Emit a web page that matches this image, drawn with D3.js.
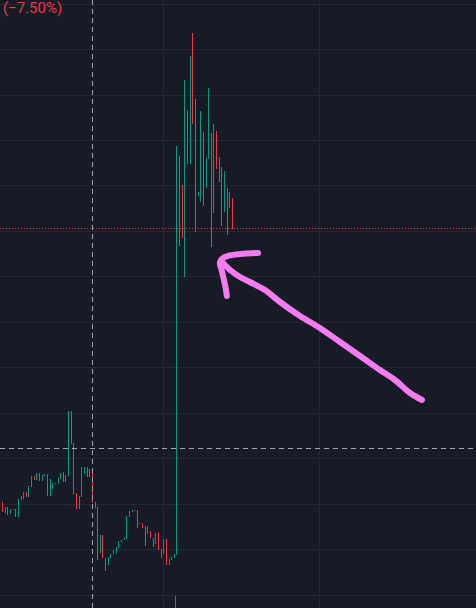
<!DOCTYPE html>
<html><head><meta charset="utf-8">
<script src="https://cdn.jsdelivr.net/npm/d3@7"></script>
<style>html,body{margin:0;padding:0;background:#171b26;overflow:hidden}</style>
</head><body><svg id="c" width="476" height="608"></svg>
<script>
// ---- data (1-minute candles) ----
const open = [80.55,78.13,79.45,77.91,79.01,79.01,77.25,80.99,81.21,82.75,
81.65,83.85,86.27,85.39,86.92,85.17,86.27,86.70,81.87,83.41,
84.51,84.51,85.61,87.14,84.95,86.27,100.55,93.52,82.53,79.01,
81.65,86.70,88.24,86.04,87.80,80.55,79.45,69.34,73.30,68.24,
66.70,68.24,69.12,69.12,70.44,71.76,72.20,72.42,77.25,78.35,
78.79,78.79,75.72,75.93,75.28,73.52,74.18,72.64,71.32,73.96,
70.22,69.12,72.42,66.70,67.80,68.24,68.90,156.59,150.22,130.00,
166.70,154.84,183.63,169.12,147.80,146.48,161.87,149.56,155.93,161.65,
144.07,162.09,156.37,154.18,144.29,149.56,145.17,147.36];
const high = [80.55,79.45,79.45,79.01,79.01,79.01,81.21,81.87,82.75,82.75,
84.07,86.27,86.27,86.92,86.92,86.48,86.70,86.70,85.61,84.73,
84.73,85.83,86.92,87.14,86.48,100.55,100.55,93.52,82.53,81.87,
88.24,88.24,88.24,87.80,87.80,80.55,79.45,73.30,73.30,68.24,
68.46,69.12,70.00,70.66,71.98,72.20,72.64,77.47,78.57,78.79,
78.79,78.79,75.93,75.93,75.28,75.28,74.18,72.64,73.74,73.96,
70.22,72.42,72.42,68.02,68.46,69.12,158.79,156.59,150.22,173.30,
166.70,178.57,183.63,169.12,148.68,166.48,161.87,156.15,171.54,161.65,
163.63,162.09,156.37,154.18,153.30,149.56,148.68,147.36];
const low = [78.35,78.13,77.69,77.91,78.79,77.25,77.25,80.99,81.21,81.65,
81.65,83.85,85.39,85.39,85.17,85.17,86.27,81.87,81.87,83.41,
84.51,84.51,85.61,84.95,84.95,86.27,93.30,82.31,79.01,79.01,
81.65,86.70,86.04,86.04,80.33,79.23,67.80,69.34,68.24,65.38,
66.70,68.24,69.12,69.12,70.44,71.76,72.20,72.42,77.25,78.35,
78.57,74.84,75.72,74.84,70.88,73.52,72.64,70.66,71.32,70.00,
68.24,69.12,66.70,66.70,67.80,68.24,68.90,136.81,138.57,130.00,
154.84,154.84,163.63,139.89,147.80,146.48,145.61,149.56,155.93,136.59,
144.07,153.74,150.88,141.21,144.29,139.23,145.17,140.60];
const close = [78.35,79.45,77.69,79.01,78.79,77.25,81.21,81.87,82.75,81.65,
84.07,86.27,85.39,86.92,85.17,86.48,86.70,81.87,85.61,84.73,
84.73,85.83,86.92,84.95,86.48,100.55,93.30,82.31,79.01,81.87,
88.24,88.24,86.04,87.80,80.33,79.23,67.80,73.30,68.24,65.38,
68.46,69.12,70.00,70.66,71.98,72.20,72.64,77.47,78.57,78.79,
78.57,74.84,75.93,74.84,70.88,75.28,72.64,70.66,73.74,70.00,
68.24,72.42,66.70,68.02,68.46,69.12,158.79,136.81,138.57,173.30,
154.84,178.57,163.63,139.89,148.68,166.48,145.61,156.15,171.54,136.59,
163.63,153.74,150.88,141.21,153.30,139.23,148.68,140.60];
// only the spike bar's volume rises into view
const volume = open.map(() => null); volume[66] = 2750;

const priceTicks = [60,70,80,90,100,110,120,130,140,150,160,170,180,190];
const timeTicks = [61,120];          // candle index of hour lines
const timeLabels = ["14:00","15:00"];
const changeLabel = "(\u22127.50%)";
const crosshair = {index: 34, price: 92.3};
// hand-drawn annotation arrow, in (candle index, price)
const arrowShaft = [[158.7,102.97],[154.2,104.51],[148.5,107.36],[142.8,109.56],[135.3,112.64],
  [127.7,115.71],[120.1,118.79],[112.6,121.43],[105.0,124.51],[99.3,127.14],[93.6,128.90],
  [89.9,130.00],[86.1,131.54],[83.1,133.30]];
const arrowHead = [[96.7,135.28],[89.9,135.06],[84.2,134.40],[82.3,133.30],[83.1,131.10],[84.2,128.24],[84.9,125.83]];

// ---- drawing ----
const W = 476, H = 608;
const UP = "#089981", DOWN = "#f23645";
const svg = d3.select("#c");
const x = d3.scaleLinear().domain([0, 1]).range([2, 4.643]);
const y = d3.scaleLinear().domain([57.25, 190.88]).range([H, 0]);
const vy = d3.scaleLinear().domain([0, 10000]).range([640, 480]);
const col = i => Math.round(x(i));

svg.append("rect").attr("width", W).attr("height", H).attr("fill", "#171b26");

// grid
const grid = svg.append("g");
grid.selectAll("line.h").data(priceTicks).join("line")
  .attr("x1", 0).attr("x2", W)
  .attr("y1", d => Math.floor(y(d)) + 0.5).attr("y2", d => Math.floor(y(d)) + 0.5)
  .attr("stroke", "#242832").attr("stroke-width", 1);
grid.selectAll("line.v").data(timeTicks).join("line")
  .attr("y1", 0).attr("y2", H)
  .attr("x1", d => col(d) + 0.5).attr("x2", d => col(d) + 0.5)
  .attr("stroke", "#242832").attr("stroke-width", 1);

// volume
svg.append("g").selectAll("rect").data(volume.map((v, i) => ({v, i})).filter(d => d.v != null)).join("rect")
  .attr("x", d => col(d.i) - 1).attr("width", 1)
  .attr("y", d => Math.round(vy(d.v))).attr("height", d => H + 40 - Math.round(vy(d.v)))
  .attr("fill", d => close[d.i] >= open[d.i] ? UP : DOWN);

// candles
const candles = open.map((o, i) => ({i, o, h: high[i], l: low[i], c: close[i]}));
const cg = svg.append("g");
cg.selectAll("rect.wick").data(candles).join("rect")
  .attr("x", d => col(d.i)).attr("width", 1)
  .attr("y", d => Math.round(y(d.h)))
  .attr("height", d => Math.max(1, Math.round(y(d.l)) - Math.round(y(d.h))))
  .attr("fill", d => d.c >= d.o ? UP : DOWN);
cg.selectAll("rect.body").data(candles).join("rect")
  .attr("x", d => col(d.i)).attr("width", 1)
  .attr("y", d => Math.round(y(Math.max(d.o, d.c))))
  .attr("height", d => Math.max(1, Math.round(y(Math.min(d.o, d.c))) - Math.round(y(Math.max(d.o, d.c)))))
  .attr("fill", d => d.c >= d.o ? UP : DOWN);

// last price line
const lastY = Math.floor(y(close[close.length - 1])) + 0.5;
svg.append("line").attr("x1", 0).attr("x2", W).attr("y1", lastY).attr("y2", lastY)
  .attr("stroke", DOWN).attr("stroke-width", 1).attr("stroke-dasharray", "1,2");

// crosshair
const chY = Math.floor(y(crosshair.price)) + 0.5, chX = col(crosshair.index) + 0.5;
svg.append("line").attr("x1", 0).attr("x2", W).attr("y1", chY).attr("y2", chY)
  .attr("stroke", "#a3a6af").attr("stroke-width", 1).attr("stroke-dasharray", "5,4");
svg.append("line").attr("x1", chX).attr("x2", chX).attr("y1", 0).attr("y2", H)
  .attr("stroke", "#a3a6af").attr("stroke-width", 1).attr("stroke-dasharray", "5,4");

// change label
svg.append("text").attr("x", 3).attr("y", 12.5).text(changeLabel)
  .attr("fill", DOWN).attr("font-family", "Roboto, sans-serif").attr("font-size", 15);

// arrow annotation
const line = d3.line().x(d => x(d[0]) + 0.5).y(d => y(d[1])).curve(d3.curveCatmullRom);
const ag = svg.append("g").attr("fill", "none").attr("stroke", "#f47cf0")
  .attr("stroke-width", 6).attr("stroke-linecap", "round").attr("stroke-linejoin", "round");
ag.append("path").attr("d", line(arrowShaft));
ag.append("path").attr("d", line(arrowHead));
</script></body></html>
